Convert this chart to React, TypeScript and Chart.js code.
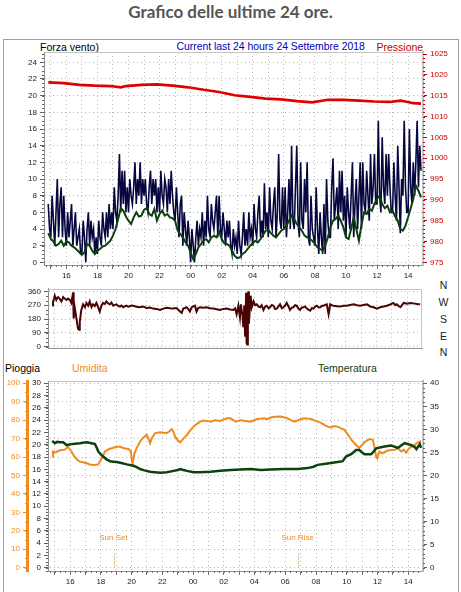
import React, { useEffect, useRef } from "react";
import { Chart, registerables } from "chart.js";

Chart.register(...registerables);

const FONT = "'Liberation Sans', Arial, sans-serif";
Chart.defaults.font.family = FONT;

// ---------------- ticks / categories ----------------
const hourTicks = [15, 16, 17, 18, 19, 20, 21, 22, 23, 24, 25, 26, 27, 28, 29, 30, 31, 32, 33, 34, 35, 36, 37, 38];
const windTicks = [0, 2, 4, 6, 8, 10, 12, 14, 16, 18, 20, 22, 24];
const pressureTicks = [975, 980, 985, 990, 995, 1000, 1005, 1010, 1015, 1020, 1025];
const dirTicks = [0, 90, 180, 270, 360];
const dirLetters = ["N", "W", "S", "E", "N"];
const rainTicks = [0, 2, 4, 6, 8, 10, 12, 14, 16, 18, 20, 22, 24, 26, 28, 30];
const humTicks = [0, 10, 20, 30, 40, 50, 60, 70, 80, 90, 100];
const tempTicks = [0, 5, 10, 15, 20, 25, 30, 35, 40];

// ---------------- wind gust (5 minute samples from 14:50) ----------------
const gustStart = "14:50";
const gustStepMinutes = 5;
const gustValues = [
  7, 4,
  3, 8, 5, 2, 6, 10, 3, 7, 9, 3, 8, 4,
  2, 6, 3, 5, 7, 2, 4, 6, 2, 3, 4, 1,
  1, 5, 3, 0, 4, 6, 2, 5, 3, 4, 1, 3,
  1, 5, 3, 2, 6, 4, 3, 6, 3, 7, 4, 6,
  4, 9, 6, 5, 8, 13, 6, 11, 7, 11, 6, 9,
  6, 10, 8, 7, 9, 12, 7, 10, 8, 12, 7, 10,
  8, 10, 7, 6, 9, 11, 7, 10, 8, 10, 6, 9,
  6, 11, 8, 7, 10, 9, 6, 10, 7, 11, 8, 6,
  5, 9, 6, 3, 7, 8, 2, 6, 4, 2, 5, 3,
  0, 4, 2, 0, 3, 5, 2, 4, 3, 6, 2, 5,
  3, 8, 4, 3, 7, 5, 4, 6, 8, 3, 8, 4,
  3, 6, 4, 2, 5, 3, 5, 2, 1, 4, 2, 3,
  1, 5, 2, 1, 3, 6, 2, 4, 2, 6, 3, 4,
  2, 7, 4, 3, 6, 8, 3, 5, 3, 9.5, 4, 6,
  3, 9, 5, 4, 7, 9, 3, 6, 13, 5, 4, 9,
  4, 9, 3, 6, 10, 4, 14, 5, 4, 9, 14, 5,
  3, 12, 5, 4, 10, 6, 12, 3, 2, 8, 4, 3,
  2, 9, 4, 1, 6, 3, 1, 7, 1, 10, 5, 3,
  3, 9, 12.5, 5, 7, 9, 4, 11, 6, 11, 5, 8,
  3, 9, 6, 4, 8, 12, 3, 7, 10, 4, 8, 12,
  4, 12, 7, 6, 11, 8, 5, 13, 7, 9, 13, 7,
  7, 17, 8, 6, 15, 9, 7, 13, 8, 13, 9, 6,
  6, 12, 8, 5, 14, 9, 3.5, 10, 8, 17, 9, 6,
  6, 16, 9, 7, 12, 8, 12, 17, 9, 14, 11,
];

// ---------------- average wind (10 minute samples from 14:50) ----------------
const avgStart = "14:50";
const avgStepMinutes = 10;
const avgValues = [
  3.5, 2.8, 2.5, 2.0, 2.2, 2.6, 2.0, 2.5, 2.4, 2.0, 1.8, 1.5, 1.2, 0.9, 1.2, 2.2, 2.0, 1.4, 1.0, 1.4,
  1.6, 1.9, 2.0, 2.3, 2.6, 3.2, 4.0, 5.2, 6.5, 6.2, 5.5, 5.0, 4.6, 5.4, 6.0, 5.5, 5.6, 6.3, 6.5, 5.8,
  5.6, 6.4, 5.0, 5.8, 6.2, 5.6, 5.8, 5.4, 5.3, 5.0, 3.8, 3.4, 3.0, 2.4, 2.0, 1.2, 0.4, 1.0, 1.8, 2.2,
  2.6, 2.8, 2.4, 3.0, 3.2, 3.0, 3.7, 2.8, 2.3, 2.2, 2.0, 1.4, 0.8, 0.5, 0.6, 1.0, 1.2, 1.6, 2.0, 2.3,
  2.6, 2.4, 2.8, 3.3, 3.8, 3.9, 3.5, 3.2, 3.0, 3.4, 3.8, 4.0, 4.4, 5.0, 5.6, 5.2, 4.6, 4.2, 3.8, 3.2,
  3.0, 2.8, 2.6, 2.2, 1.8, 1.6, 1.4, 2.0, 3.0, 4.2, 5.0, 5.2, 5.6, 5.0, 4.2, 3.0, 2.8, 4.0, 5.4, 4.0,
  2.6, 4.5, 6.0, 5.8, 6.4, 6.2, 7.0, 7.6, 8.0, 7.0, 6.5, 6.8, 6.0, 6.2, 5.5, 5.0, 4.0, 3.8, 4.4, 5.4,
  6.5, 7.6, 9.2, 8.6, 7.8,
];

// ---------------- pressure ----------------
const pressureTimes = [
  "14:50", "15:50", "16:50", "17:50", "18:50", "19:30", "19:50", "20:50", "21:50", "22:50", "23:50", "00:50",
  "01:50", "02:50", "03:50", "04:50", "05:50", "06:50", "07:50", "08:50", "09:50", "10:50", "11:50", "12:50",
  "13:30", "13:50", "14:20", "14:50",
];
const pressureValues = [
  1018.2, 1018.0, 1017.6, 1017.4, 1017.3, 1017.0, 1017.3, 1017.6, 1017.7, 1017.4, 1017.0, 1016.4,
  1015.9, 1015.1, 1014.7, 1014.3, 1014.1, 1013.7, 1013.4, 1014.0, 1014.0, 1013.8, 1013.6, 1013.5,
  1013.8, 1013.6, 1013.2, 1013.1,
];

// ---------------- wind direction ----------------
const dirTimes = [
  "14:50", "14:53", "14:57", "15:00", "15:06", "15:10", "15:13", "15:19", "15:26", "15:30", "15:33", "15:39",
  "15:46", "15:52", "15:59", "16:05", "16:12", "16:14", "16:18", "16:25", "16:31", "16:35", "16:38", "16:44",
  "16:51", "16:58", "17:04", "17:11", "17:17", "17:24", "17:30", "17:37", "17:43", "17:50", "17:56", "18:03",
  "18:09", "18:16", "18:22", "18:29", "18:36", "18:42", "18:49", "18:55", "19:02", "19:08", "19:15", "19:21",
  "19:28", "19:35", "19:41", "19:48", "19:54", "20:00", "20:07", "20:20", "20:33", "20:45", "20:59", "21:12",
  "21:25", "21:38", "21:52", "22:05", "22:18", "22:31", "22:44", "22:57", "23:10", "23:17", "23:23", "23:30",
  "23:36", "23:43", "23:49", "23:56", "00:03", "00:09", "00:15", "00:21", "00:28", "00:42", "00:55", "01:08",
  "01:21", "01:34", "01:47", "02:00", "02:13", "02:26", "02:39", "02:46", "02:52", "02:59", "03:05", "03:09",
  "03:12", "03:15", "03:18", "03:22", "03:25", "03:27", "03:29", "03:31", "03:33", "03:36", "03:38", "03:40",
  "03:42", "03:45", "03:47", "03:51", "03:58", "04:04", "04:11", "04:17", "04:24", "04:30", "04:37", "04:44",
  "04:50", "04:57", "05:03", "05:10", "05:16", "05:23", "05:29", "05:36", "05:42", "05:49", "05:55", "06:02",
  "06:08", "06:15", "06:21", "06:28", "06:34", "06:41", "06:47", "06:54", "07:00", "07:07", "07:14", "07:20",
  "07:27", "07:34", "07:40", "07:47", "07:53", "08:00", "08:06", "08:13", "08:19", "08:26", "08:32", "08:39",
  "08:45", "08:52", "08:55", "08:58", "09:05", "09:11", "09:24", "09:37", "09:50", "10:03", "10:16", "10:30",
  "10:43", "10:56", "11:09", "11:22", "11:35", "11:48", "12:01", "12:14", "12:27", "12:40", "12:53", "13:06",
  "13:13", "13:19", "13:26", "13:33", "13:40", "13:46", "13:52", "13:59", "14:12", "14:25", "14:38", "14:50",
];
const dirValues = [
  268, 290, 312, 332, 304, 318, 323, 313, 295, 310, 323, 313,
  304, 313, 304, 285, 354, 183, 257, 183, 117, 110, 164, 239,
  276, 257, 285, 267, 295, 257, 276, 265, 285, 257, 229, 267,
  285, 278, 295, 282, 276, 288, 267, 272, 276, 265, 261, 268,
  257, 264, 267, 260, 263, 268, 267, 260, 257, 262, 252, 255,
  248, 246, 239, 248, 254, 250, 248, 252, 229, 220, 248, 252,
  257, 245, 229, 257, 262, 267, 229, 250, 257, 254, 257, 250,
  248, 244, 239, 246, 248, 242, 239, 250, 211, 267, 192, 276,
  230, 205, 127, 270, 71, 180, 351, 24, 15, 340, 360, 150,
  201, 300, 332, 257, 295, 270, 276, 262, 257, 270, 239, 262,
  267, 250, 257, 272, 267, 245, 248, 262, 276, 250, 257, 268,
  285, 262, 239, 255, 257, 270, 267, 248, 239, 255, 257, 262,
  248, 240, 235, 252, 248, 262, 267, 255, 257, 266, 267, 272,
  276, 211, 240, 276, 270, 267, 264, 261, 266, 267, 272, 276,
  270, 267, 272, 276, 262, 257, 248, 257, 262, 267, 275, 285,
  270, 276, 265, 257, 272, 285, 283, 280, 284, 282, 278, 276,
];

// ---------------- humidity ----------------
const humTimes = [
  "14:50", "14:53", "15:05", "15:13", "15:25", "15:39", "15:52", "16:05", "16:18", "16:28", "16:38", "16:50",
  "17:04", "17:17", "17:30", "17:40", "17:50", "18:03", "18:16", "18:30", "18:49", "19:02", "19:15", "19:30",
  "19:47", "19:57", "20:01", "20:04", "20:11", "20:22", "20:33", "20:45", "20:59", "21:06", "21:12", "21:20",
  "21:32", "21:52", "22:05", "22:18", "22:28", "22:37", "22:44", "22:50", "23:00", "23:10", "23:22", "23:36",
  "23:49", "00:02", "00:15", "00:28", "00:40", "00:55", "01:10", "01:25", "01:47", "02:00", "02:13", "02:26",
  "02:46", "03:05", "03:25", "03:45", "04:11", "04:37", "04:50", "05:03", "05:20", "05:42", "06:08", "06:20",
  "06:35", "06:48", "07:00", "07:14", "07:40", "08:06", "08:20", "08:32", "08:45", "08:58", "09:10", "09:24",
  "09:38", "09:51", "10:00", "10:10", "10:20", "10:30", "10:40", "10:49", "11:00", "11:09", "11:20", "11:29",
  "11:42", "11:47", "11:51", "11:55", "11:59", "12:04", "12:08", "12:18", "12:27", "12:40", "12:54", "13:07",
  "13:20", "13:33", "13:42", "13:52", "14:02", "14:12", "14:22", "14:32", "14:42", "14:50",
];
const humValues = [
  60.2, 63, 62.5, 63.3, 63.8, 64, 65.6, 63, 60, 58.5, 57.5, 57.2,
  56.6, 56, 55.7, 55.8, 56, 59.3, 63, 64.2, 65, 65.6, 65.6, 64.8,
  64.4, 63, 58, 56.6, 62, 65.5, 68.4, 70.5, 72, 70, 67.5, 70.5,
  73, 73.4, 73.2, 73, 74, 75.2, 73.5, 71, 69, 68, 70, 72,
  74.5, 76.5, 78, 79.2, 79.8, 79.6, 79.2, 80, 79.6, 80.4, 81, 81,
  79.2, 80, 79.6, 79.2, 80.6, 81, 80.5, 81.4, 81.8, 82, 81, 80.2,
  79.2, 79.8, 80.5, 81, 80.6, 79.2, 78.5, 77.4, 76.5, 76, 76.8, 76.5,
  75.5, 74.7, 73, 71, 69, 67.5, 66, 65, 66.5, 68, 69, 69.8,
  69.3, 66, 63, 60, 59.3, 61.5, 63, 62, 62.6, 63.5, 63.8, 64,
  64.7, 63, 64, 62.4, 64.5, 65.6, 66, 67.5, 68.2, 68.7,
];

// ---------------- temperature ----------------
const tempTimes = [
  "14:50", "15:00", "15:10", "15:19", "15:33", "15:46", "16:05", "16:20", "16:38", "16:50", "17:04", "17:15",
  "17:24", "17:37", "17:44", "17:50", "18:00", "18:09", "18:22", "18:36", "18:49", "19:02", "19:20", "19:41",
  "20:07", "20:20", "20:33", "20:50", "21:12", "21:30", "21:52", "22:18", "22:44", "23:00", "23:10", "23:22",
  "23:36", "00:02", "00:28", "01:07", "01:47", "02:26", "03:05", "03:45", "04:24", "05:03", "05:55", "06:48",
  "07:27", "07:50", "08:06", "08:45", "09:24", "09:44", "09:51", "09:57", "10:17", "10:30", "10:36", "10:49",
  "11:00", "11:09", "11:35", "11:45", "11:55", "12:27", "12:54", "13:20", "13:35", "13:46", "14:12", "14:25",
  "14:32", "14:40", "14:45", "14:50",
];
const tempValues = [
  27.5, 27, 27.3, 27.2, 27.2, 26.6, 26.8, 26.9, 27, 27.1, 27.2, 27.1,
  27, 26.8, 26, 25.2, 24.6, 24.1, 23.5, 23.1, 23.0, 22.9, 22.7, 22.4,
  22.1, 21.8, 21.4, 21.1, 20.8, 20.7, 20.6, 20.7, 21, 21.2, 21.4, 21.2,
  21, 20.7, 20.7, 20.8, 21, 21.2, 21.3, 21.4, 21.2, 21.3, 21.4, 21.4,
  21.6, 21.9, 22.3, 22.6, 22.9, 23.1, 23.6, 24.1, 24.6, 25.2, 25.5, 25.5,
  25, 24.6, 24.6, 25.2, 25.9, 26.3, 26.5, 26, 26.6, 27, 26.6, 26.2,
  25.7, 26.4, 26.8, 26,
];

// ---------------- rain & sun ----------------
const rainTimes = ["14:50", "14:50"];
const rainValues = [0, 0];
const sunLabels = ["Sun Set", "Sun Rise"];
const sunTimes = ["18:53", "06:52"];

// ---------------- helpers ----------------
function toHours(times: string[]): number[] {
  const out: number[] = [];
  let prev = -Infinity;
  let add = 0;
  for (const t of times) {
    const [h, m] = t.split(":").map(Number);
    let v = h + m / 60 + add;
    if (v < prev) {
      add += 24;
      v += 24;
    }
    out.push(v);
    prev = v;
  }
  return out;
}
function pts(times: number[], values: number[]) {
  return values.map((y, i) => ({ x: times[i], y }));
}
function sampleTimes(start: string, stepMin: number, values: number[]) {
  const s = toHours([start])[0];
  return values.map((_, i) => s + (i * stepMin) / 60);
}
const gustTimes = sampleTimes(gustStart, gustStepMinutes, gustValues);
const avgTimes = sampleTimes(avgStart, avgStepMinutes, avgValues);

const X_MIN = 14.56;
const X_MAX = 38.96;
const GRID = "#b8b8b8";
const TXT = "#1a1a1a";
const ORANGE = "#f08a1c";

type Minor = { scale: string; step: number; len: number; color: string };
function minorTicksPlugin(list: Minor[]) {
  return {
    id: "minorTicks",
    afterDraw(chart: any) {
      const ctx = chart.ctx;
      for (const m of list) {
        const s = chart.scales[m.scale];
        if (!s) continue;
        ctx.save();
        ctx.strokeStyle = m.color;
        ctx.lineWidth = 1;
        ctx.beginPath();
        const start = Math.ceil(s.min / m.step - 1e-6);
        const end = Math.floor(s.max / m.step + 1e-6);
        for (let k = start; k <= end; k++) {
          const p = Math.round(s.getPixelForValue(k * m.step)) + 0.5;
          if (s.isHorizontal()) {
            ctx.moveTo(p, s.top);
            ctx.lineTo(p, s.top + m.len);
          } else if (s.position === "left") {
            ctx.moveTo(s.right, p);
            ctx.lineTo(s.right - m.len, p);
          } else {
            ctx.moveTo(s.left, p);
            ctx.lineTo(s.left + m.len, p);
          }
        }
        ctx.stroke();
        ctx.restore();
      }
    },
  };
}
function framePlugin(color: string) {
  return {
    id: "frame",
    afterDraw(chart: any) {
      const { left, top, right, bottom } = chart.chartArea;
      const ctx = chart.ctx;
      ctx.save();
      ctx.strokeStyle = color;
      ctx.lineWidth = 1;
      ctx.beginPath();
      ctx.moveTo(Math.round(left) + 0.5, Math.round(top) + 0.5);
      ctx.lineTo(Math.round(right) - 0.5, Math.round(top) + 0.5);
      ctx.lineTo(Math.round(right) - 0.5, Math.round(bottom) - 0.5);
      ctx.stroke();
      ctx.restore();
    },
  };
}

function xScale(showLabels: boolean, height: number) {
  return {
    type: "linear",
    min: X_MIN,
    max: X_MAX,
    afterBuildTicks: (s: any) => {
      s.ticks = hourTicks.map((v) => ({ value: v }));
    },
    afterFit: (s: any) => {
      s.height = height;
    },
    ticks: {
      display: showLabels,
      autoSkip: false,
      maxRotation: 0,
      padding: 2,
      font: { family: FONT, size: 8 },
      color: TXT,
      callback: (v: any) => (Number(v) % 2 === 0 ? String(Number(v) % 24).padStart(2, "0") : ""),
    },
    grid: { color: GRID, drawTicks: showLabels, tickLength: 4, tickColor: "#707070", tickBorderDash: [] },
    border: { display: true, color: "#909090", width: 1, dash: [1, 3] },
  };
}

function yScale(opts: {
  position: string;
  min: number;
  max: number;
  ticks: number[];
  width: number;
  color: string;
  tickColor: string;
  grid: boolean;
  borderColor: string;
  borderWidth: number;
  weight?: number;
}) {
  return {
    type: "linear",
    position: opts.position,
    min: opts.min,
    max: opts.max,
    weight: opts.weight ?? 0,
    afterBuildTicks: (s: any) => {
      s.ticks = opts.ticks.map((v) => ({ value: v }));
    },
    afterFit: (s: any) => {
      s.width = opts.width;
    },
    ticks: {
      font: { family: FONT, size: 8 },
      color: opts.color,
      padding: 3,
      autoSkip: false,
      callback: (v: any) => String(v),
    },
    grid: {
      drawOnChartArea: opts.grid,
      color: GRID,
      tickLength: 4,
      tickColor: opts.tickColor,
      tickBorderDash: [],
    },
    border: { display: true, color: opts.borderColor, width: opts.borderWidth, dash: [1, 3] },
  };
}

const line = (data: any[], color: string, width: number, axis: string, order: number, extra: any = {}) => ({
  data,
  borderColor: color,
  backgroundColor: color,
  borderWidth: width,
  pointRadius: 0,
  tension: 0,
  fill: false,
  yAxisID: axis,
  order,
  ...extra,
});

export default function App() {
  const c1 = useRef<HTMLCanvasElement>(null);
  const c2 = useRef<HTMLCanvasElement>(null);
  const c3 = useRef<HTMLCanvasElement>(null);

  useEffect(() => {
    const charts: Chart[] = [];
    const common = {
      responsive: false,
      animation: false as const,
      devicePixelRatio: 1,
      events: [],
      plugins: { legend: { display: false }, tooltip: { enabled: false }, title: { display: false } },
    };

    // ---- wind & pressure ----
    charts.push(
      new Chart(c1.current!, {
        type: "line",
        data: {
          datasets: [
            line(pts(avgTimes, avgValues), "#0b400b", 2, "y", 0),
            line(pts(gustTimes, gustValues), "#07073f", 1.6, "y", 1),
            line(pts(toHours(pressureTimes), pressureValues), "#e00000", 2.6, "yP", 0),
          ],
        },
        options: {
          ...common,
          layout: { padding: { top: 12, left: 0, right: 0, bottom: 0 } },
          scales: {
            x: xScale(true, 16),
            y: yScale({
              position: "left", min: -0.32, max: 25.24, ticks: windTicks, width: 44, color: TXT,
              tickColor: "#606060", grid: true, borderColor: "#909090", borderWidth: 1,
            }),
            yP: yScale({
              position: "right", min: 974.36, max: 1025.48, ticks: pressureTicks, width: 38, color: "#c00000",
              tickColor: "#c00000", grid: false, borderColor: "#c4c4c4", borderWidth: 2,
            }),
          },
        } as any,
        plugins: [
          framePlugin("#c4c4c4"),
          minorTicksPlugin([
            { scale: "y", step: 0.5, len: 2, color: "#606060" },
            { scale: "yP", step: 1, len: 2, color: "#c00000" },
            { scale: "x", step: 1 / 3, len: 2, color: "#707070" },
          ]),
        ],
      } as any)
    );

    // ---- wind direction ----
    charts.push(
      new Chart(c2.current!, {
        type: "line",
        data: {
          datasets: [line(pts(toHours(dirTimes), dirValues), "#4a0404", 2, "y", 0)],
        },
        options: {
          ...common,
          layout: { padding: { top: 1, left: 0, right: 39, bottom: 0 } },
          scales: {
            x: xScale(false, 5),
            y: yScale({
              position: "left", min: -9.5, max: 376.8, ticks: dirTicks, width: 48, color: TXT,
              tickColor: "#606060", grid: true, borderColor: "#909090", borderWidth: 1,
            }),
          },
        } as any,
        plugins: [
          framePlugin("#c4c4c4"),
          minorTicksPlugin([{ scale: "y", step: 30, len: 2, color: "#606060" }]),
        ],
      } as any)
    );

    // ---- rain / humidity / temperature ----
    const sunH = toHours([sunTimes[0]]).concat(toHours([sunTimes[0], sunTimes[1]])[1]);
    const sunTextPlugin = {
      id: "sunText",
      afterDatasetsDraw(chart: any) {
        const ctx = chart.ctx;
        const xs = chart.scales.x;
        const ys = chart.scales.yR;
        ctx.save();
        ctx.fillStyle = ORANGE;
        ctx.font = `8px ${FONT}`;
        ctx.textAlign = "center";
        ctx.textBaseline = "middle";
        sunLabels.forEach((label, i) => {
          ctx.fillText(label, xs.getPixelForValue(sunH[i]) - 1, ys.getPixelForValue(4.8));
        });
        ctx.restore();
      },
    };
    const sunDatasets = sunH.map((h) =>
      line([{ x: h, y: 0 }, { x: h, y: 2.3 }], ORANGE, 1, "yR", 2, { borderDash: [1, 1] })
    );
    charts.push(
      new Chart(c3.current!, {
        type: "line",
        data: {
          datasets: [
            line(pts(toHours(rainTimes), rainValues), "#08083a", 3, "yR", 0),
            line(pts(toHours(tempTimes), tempValues), "#0c420c", 2.5, "yT", 1),
            line(pts(toHours(humTimes), humValues), ORANGE, 2, "yH", 2),
            ...sunDatasets,
          ],
        },
        options: {
          ...common,
          layout: { padding: { top: 25, left: 0, right: 0, bottom: 0 } },
          scales: {
            x: xScale(true, 21),
            yR: yScale({
              position: "left", min: -0.54, max: 30.37, ticks: rainTicks, width: 21, color: TXT,
              tickColor: "#606060", grid: false, borderColor: "#909090", borderWidth: 1, weight: 0,
            }),
            yH: yScale({
              position: "left", min: -1.8, max: 101.23, ticks: humTicks, width: 27, color: ORANGE,
              tickColor: ORANGE, grid: true, borderColor: ORANGE, borderWidth: 3, weight: 1,
            }),
            yT: yScale({
              position: "right", min: -0.72, max: 40.49, ticks: tempTicks, width: 38, color: TXT,
              tickColor: "#606060", grid: false, borderColor: "#b4b4b4", borderWidth: 2,
            }),
          },
        } as any,
        plugins: [
          framePlugin("#c4c4c4"),
          sunTextPlugin,
          minorTicksPlugin([
            { scale: "yR", step: 0.5, len: 2, color: "#606060" },
            { scale: "yH", step: 5, len: 2, color: ORANGE },
            { scale: "yT", step: 1, len: 2, color: "#606060" },
            { scale: "x", step: 1 / 3, len: 2, color: "#707070" },
          ]),
        ],
      } as any)
    );

    return () => charts.forEach((c) => c.destroy());
  }, []);

  const label = (text: string, left: number, top: number, color: string, size = 10.5) => (
    <div
      style={{
        position: "absolute",
        left,
        top,
        color,
        fontFamily: FONT,
        fontSize: size,
        lineHeight: "12px",
        whiteSpace: "nowrap",
      }}
    >
      {text}
    </div>
  );
  const letterCenters = [285, 302.3, 319.3, 336, 351.7];

  return (
    <div
      style={{
        position: "absolute",
        left: 0,
        top: 0,
        width: 461,
        height: 592,
        overflow: "hidden",
        background: "#ffffff",
      }}
    >
      <div
        style={{
          position: "absolute",
          left: 0,
          top: 2,
          width: 461,
          textAlign: "center",
          fontFamily: "Lato, 'Open Sans', sans-serif",
          fontWeight: 700,
          fontSize: 17,
          lineHeight: "20px",
          color: "#555555",
        }}
      >
        Grafico delle ultime 24 ore.
      </div>
      <div
        style={{
          position: "absolute",
          left: 3,
          top: 39,
          width: 454,
          height: 570,
          border: "1px solid #a0a0a0",
        }}
      />
      {label("Forza vento)", 40, 40.5, "#000000")}
      {label("Current last 24 hours 24 Settembre 2018", 176.5, 40.5, "#0000b4", 10.4)}
      {label("Pressione", 376.5, 40.5, "#c00000")}
      {dirLetters.map((l, i) => (
        <div
          key={i}
          style={{
            position: "absolute",
            left: 436,
            width: 15,
            top: letterCenters[i] - 6,
            textAlign: "center",
            fontFamily: FONT,
            fontSize: 10.5,
            lineHeight: "12px",
            color: "#1a1a1a",
          }}
        >
          {l}
        </div>
      ))}
      {label("Pioggia", 5, 362, "#000000")}
      {label("Umidita", 72, 362, ORANGE)}
      {label("Temperatura", 318, 362, "#0c420c")}
      <canvas ref={c1} width={461} height={241} style={{ position: "absolute", left: 0, top: 40 }} />
      <canvas ref={c2} width={461} height={75} style={{ position: "absolute", left: 0, top: 281 }} />
      <canvas ref={c3} width={461} height={236} style={{ position: "absolute", left: 0, top: 356 }} />
    </div>
  );
}
